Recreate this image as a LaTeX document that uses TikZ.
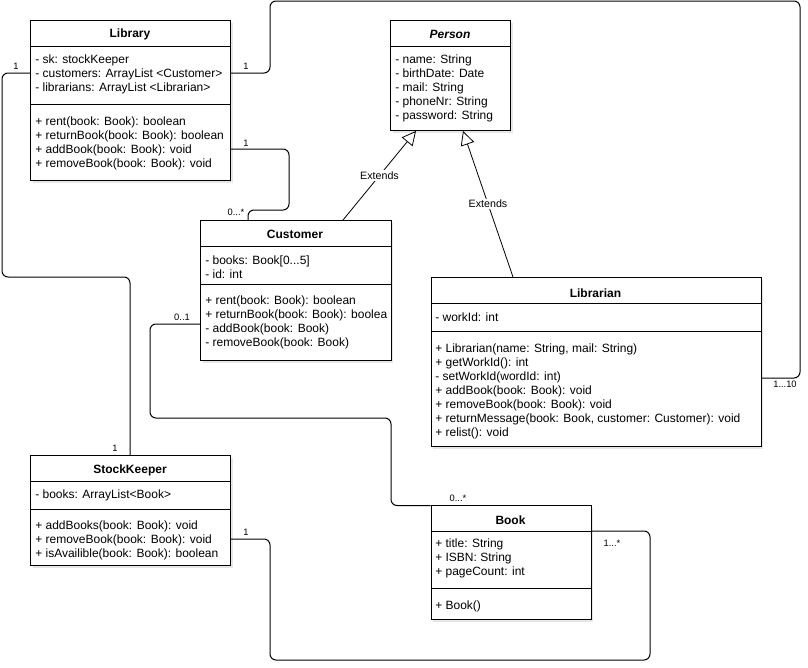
\documentclass[tikz,border=0pt]{standalone}
\usepackage{fontspec}
\setmainfont{Liberation Sans}
\usetikzlibrary{arrows.meta,shadows}
\begin{document}
\begin{tikzpicture}[x=0.75pt,y=-0.75pt,
  cls/.style={draw, line width=0.75pt, fill=white, anchor=north west, inner sep=0pt,
    drop shadow={shadow xshift=1.5pt, shadow yshift=-1.5pt, opacity=0.22, fill=black!45}},
  divl/.style={line width=0.75pt},
  ttl/.style={font=\fontsize{9}{10.5}\selectfont\bfseries, inner sep=0pt},
  txt/.style={anchor=west, align=left, inner sep=0pt, font=\fontsize{9}{10.5}\selectfont},
  conn/.style={line width=0.75pt, rounded corners=4.5pt},
  mult/.style={font=\fontsize{7}{8}\selectfont, inner sep=0.5pt},
  ext/.style={line width=0.6pt, -{Triangle[open,length=10.5pt,width=10.5pt]}},
  extlbl/.style={fill=white, font=\fontsize{8}{9}\selectfont, inner sep=1pt}
]
\useasboundingbox (0,0) rectangle (808,668);

% Library
\node[cls, minimum width=150pt, minimum height=120pt] (lib) at (30,20) {};
\draw[divl] (lib.west |- 0,46.5) -- (lib.east |- 0,46.5);
\draw[divl] (lib.west |- 0,104) -- (lib.east |- 0,104);
\node[ttl] (libT) at (130,34) {Library};
\node[txt] (libA) at (35,74) {- sk: stockKeeper\\- customers: ArrayList <Customer>\\- librarians: ArrayList <Librarian>};
\node[txt] (libM) at (35,143) {+ rent(book: Book): boolean\\+ returnBook(book: Book): boolean\\+ addBook(book: Book): void\\+ removeBook(book: Book): void};

% Person
\node[cls, minimum width=90pt, minimum height=82.5pt] (per) at (390,20) {};
\draw[divl] (per.west |- 0,46.5) -- (per.east |- 0,46.5);
\node[ttl, font=\fontsize{9}{10.5}\selectfont\bfseries\itshape] (perT) at (450,34) {Person};
\node[txt] (perA) at (395,88) {- name: String\\- birthDate: Date\\- mail: String\\- phoneNr: String\\- password: String};

% Customer
\node[cls, minimum width=143pt, minimum height=105pt] (cust) at (200,220) {};
\draw[divl] (cust.west |- 0,246.5) -- (cust.east |- 0,246.5);
\draw[divl] (cust.west |- 0,284.5) -- (cust.east |- 0,284.5);
\node[ttl] (custT) at (295,234) {Customer};
\node[txt] (custA) at (205,267) {- books: Book[0...5]\\- id: int};
\begin{scope}
\clip (cust.north west) rectangle (cust.south east);
\node[txt] (custM) at (205,322.5) {+ rent(book: Book): boolean\\+ returnBook(book: Book): boolea\\- addBook(book: Book)\\- removeBook(book: Book)};
\end{scope}

% Librarian
\node[cls, minimum width=247.5pt, minimum height=127pt] (lbr) at (430.5,277) {};
\draw[divl] (lbr.west |- 0,303.5) -- (lbr.east |- 0,303.5);
\draw[divl] (lbr.west |- 0,331) -- (lbr.east |- 0,331);
\node[ttl] (lbrT) at (595.5,293) {Librarian};
\node[txt] (lbrA) at (435,317) {- workId: int};
\node[txt] (lbrM) at (435,391) {+ Librarian(name: String, mail: String)\\+ getWorkId(): int\\- setWorkId(wordId: int)\\+ addBook(book: Book): void\\+ removeBook(book: Book): void\\+ returnMessage(book: Book, customer: Customer): void\\+ relist(): void};

% StockKeeper
\node[cls, minimum width=150pt, minimum height=82.5pt] (sk) at (30,455) {};
\draw[divl] (sk.west |- 0,481.5) -- (sk.east |- 0,481.5);
\draw[divl] (sk.west |- 0,509) -- (sk.east |- 0,509);
\node[ttl] (skT) at (130,470) {StockKeeper};
\node[txt] (skA) at (35,495) {- books: ArrayList<Book>};
\node[txt] (skM) at (35,540) {+ addBooks(book: Book): void\\+ removeBook(book: Book): void\\+ isAvailible(book: Book): boolean};

% Book
\node[cls, minimum width=120pt, minimum height=85.5pt] (book) at (430.5,505) {};
\draw[divl] (book.west |- 0,531) -- (book.east |- 0,531);
\draw[divl] (book.west |- 0,588.5) -- (book.east |- 0,588.5);
\node[ttl] (bookT) at (510.5,520) {Book};
\node[txt] (bookA) at (435,558.5) {+ title: String\\+ ISBN: String\\+ pageCount: int};
\node[txt] (bookM) at (435,606.5) {+ Book()};

% Generalisations
\draw[ext] (cust.north -| 343,0) -- node[extlbl, pos=0.5] {Extends} (per.south -| 416,0);
\draw[ext] (lbr.north -| 513,0) -- node[extlbl, pos=0.5] {Extends} (per.south -| 463,0);

% Associations
\draw[conn] (lib.east |- 0,73) -- (270,73) -- (270,1) -- (800,1) -- (800,378) -- (lbr.east |- 0,378);
\draw[conn] (lib.west |- 0,73) -- (2,73) -- (2,277) -- (130,277) -- (sk.north -| 130,0);
\draw[conn] (lib.east |- 0,149) -- (289,149) -- (289,210) -- (248,210) -- (cust.north -| 248,0);
\draw[conn] (cust.west |- 0,324) -- (150,324) -- (150,418) -- (391,418) -- (391,505.5) -- (book.west |- 0,505.5);
\draw[conn] (sk.east |- 0,539) -- (270,539) -- (270,660) -- (650,660) -- (650,531) -- (book.east |- 0,531);

% Multiplicities
\node[mult] (m1) at (246,66) {1};
\node[mult] (m2) at (785,384) {1...10};
\node[mult] (m3) at (16,66) {1};
\node[mult] (m4) at (115,448) {1};
\node[mult] (m5) at (246,143) {1};
\node[mult] (m6) at (236,212) {0...*};
\node[mult] (m7) at (182,317) {0..1};
\node[mult] (m8) at (458,498) {0...*};
\node[mult] (m9) at (246,532) {1};
\node[mult] (m10) at (612,543) {1...*};
\end{tikzpicture}
\end{document}
